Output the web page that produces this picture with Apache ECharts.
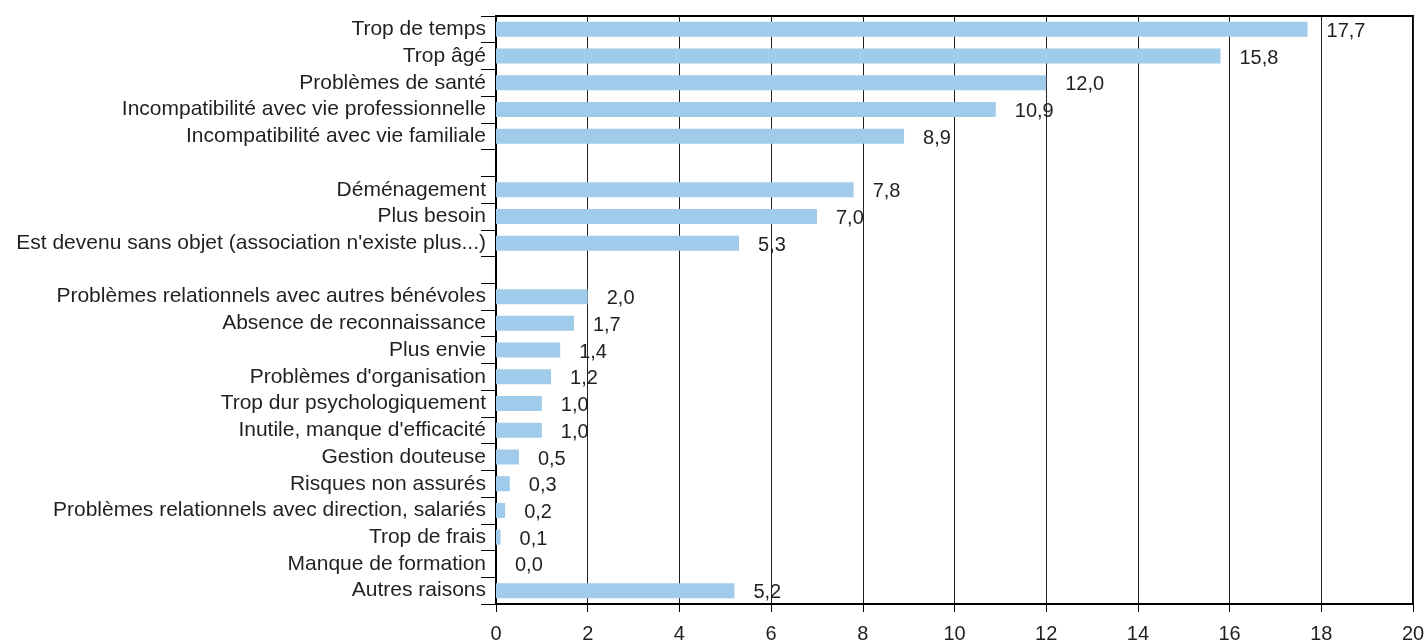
<!DOCTYPE html>
<html>
<head>
<meta charset="utf-8">
<script src="https://cdn.jsdelivr.net/npm/echarts@6/dist/echarts.min.js"></script>
<style>
  html, body { margin: 0; padding: 0; background: #fff; }
  #chart { width: 1427px; height: 641px; }
</style>
</head>
<body>
<div id="chart"></div>
<script>
// raisons d'arret du benevolat (%), les lignes vides separent les groupes
var categories = [
    'Trop de temps',
    'Trop âgé',
    'Problèmes de santé',
    'Incompatibilité avec vie professionnelle',
    'Incompatibilité avec vie familiale',
    ' ',
    'Déménagement',
    'Plus besoin',
    'Est devenu sans objet (association n\'existe plus...)',
    '  ',
    'Problèmes relationnels avec autres bénévoles',
    'Absence de reconnaissance',
    'Plus envie',
    'Problèmes d\'organisation',
    'Trop dur psychologiquement',
    'Inutile, manque d\'efficacité',
    'Gestion douteuse',
    'Risques non assurés',
    'Problèmes relationnels avec direction, salariés',
    'Trop de frais',
    'Manque de formation',
    'Autres raisons'
];
var values = [17.7, 15.8, 12.0, 10.9, 8.9, null, 7.8, 7.0, 5.3, null,
    2.0, 1.7, 1.4, 1.2, 1.0, 1.0, 0.5, 0.3, 0.2, 0.1, 0.0, 5.2];
var xTicks = [0, 2, 4, 6, 8, 10, 12, 14, 16, 18, 20];

var font = 'Liberation Sans, Arial, sans-serif';
var chart = echarts.init(document.getElementById('chart'));

var option = {
    animation: false,
    textStyle: { fontFamily: font },
    grid: {
        left: 496, right: 14, top: 16, bottom: 37,
        outerBoundsMode: 'none',
        show: true, borderColor: '#000', borderWidth: 2, backgroundColor: 'transparent'
    },
    xAxis: {
        type: 'value',
        min: xTicks[0],
        max: xTicks[xTicks.length - 1],
        interval: 2,
        axisLine: { show: true, lineStyle: { color: '#000', width: 2 } },
        axisTick: { show: true, length: 8, lineStyle: { color: '#000', width: 1 } },
        axisLabel: { color: '#231f20', fontSize: 20, margin: 20, fontFamily: font },
        splitLine: { show: true, lineStyle: { color: '#231f20', width: 1 } }
    },
    yAxis: {
        type: 'category',
        inverse: true,
        data: categories,
        axisLine: { show: true, lineStyle: { color: '#000', width: 2 } },
        axisTick: { show: true, interval: 0, length: 15, lineStyle: { color: '#000', width: 1 } },
        axisLabel: { interval: 0, color: '#231f20', fontSize: 21, margin: 10, fontFamily: font },
        splitLine: { show: false }
    },
    series: [{
        type: 'bar',
        data: values,
        barWidth: 15,
        itemStyle: { color: '#a0cbea' },
        label: {
            show: true,
            position: 'right',
            distance: 19,
            offset: [0, 2],
            color: '#231f20',
            fontSize: 20,
            fontFamily: font,
            formatter: function (p) {
                if (p.value == null) return '';
                return p.value.toFixed(1).replace('.', ',');
            }
        }
    }]
};
chart.setOption(option);
</script>
</body>
</html>
